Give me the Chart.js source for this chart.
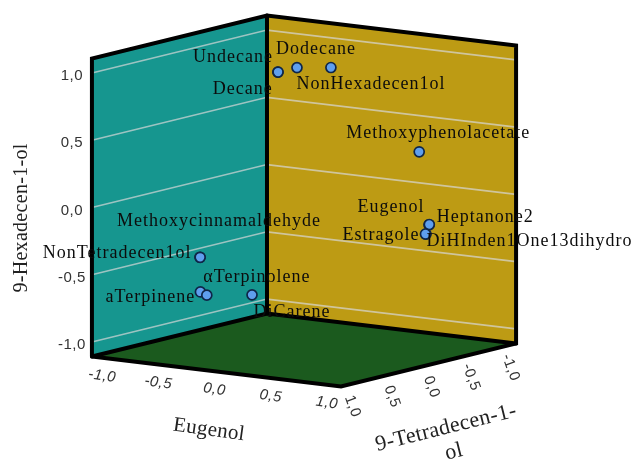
<!DOCTYPE html>
<html>
<head>
<meta charset="utf-8">
<title>Loadings plot</title>
<script src="https://cdn.jsdelivr.net/npm/chart.js@4"></script>
<style>
  html, body { margin: 0; padding: 0; background: #fff; }
  #chart { display: block; filter: blur(0.55px); }
</style>
</head>
<body>
<canvas id="chart" width="633" height="461"></canvas>
<script>
// Loadings
const names = ["Decane", "Undecane", "Dodecane", "NonHexadecen1ol", "Methoxyphenolacetate", "Eugenol", "Heptanone2",
  "Estragole", "DiHInden1One13dihydro", "Methoxycinnamaldehyde", "NonTetradecen1ol", "aTerpinene", "αTerpinolene", "DiCarene"];
const eugenol = [-0.05, -0.02, 0.05, 0.12, 0.8, 1.0, 0.96, 0.98, 0.94, -0.3, -0.2, -0.5, -0.45, -0.35];
const tetradecen = [0.26, 0.3, 0.16, -0.17, -0.32, -0.16, -0.22, -0.15, -0.2, 0.89, 1.03, 0.6, 0.59, 0.16];
const hexadecen = [0.99, 1.0, 1.02, 0.98, 0.4, -0.1, -0.11, -0.17, -0.18, -0.32, -0.29, -0.64, -0.66, -0.71];

const tickValues = [-1, -0.5, 0, 0.5, 1];
const tickLabels = ["-1,0", "-0,5", "0,0", "0,5", "1,0"];

// where each name sits relative to its point, in pixels
const labelOffsets = [[-35, 17], [-45, -15], [19, -18], [40, 17], [19, -19], [-38, -18], [56, -7],
  [-45, 1], [104, 7], [19, -36], [-83, -4], [-50, 5], [50, -18], [40, 17]];

// Box edge in data units and the oblique projection of the cube
const EDGE = 1.108;
function project(e, t, h) {
  return {
    x: 304 + 112.4 * e - 79 * t,
    y: 201 + 13.5 * e + 19.4 * t - 134.5 * h
  };
}

const leftBottom = project(-EDGE, EDGE, -EDGE);
const leftTop = project(-EDGE, EDGE, EDGE);
const backBottom = project(-EDGE, -EDGE, -EDGE);
const backTop = project(-EDGE, -EDGE, EDGE);
const rightBottom = project(EDGE, -EDGE, -EDGE);
const rightTop = project(EDGE, -EDGE, EDGE);
const frontBottom = project(EDGE, EDGE, -EDGE);

function wall(points, color) {
  return {
    data: points, showLine: true, pointRadius: 0, borderWidth: 0,
    backgroundColor: color, fill: "shape", order: 30
  };
}

function edge(points, width, color, order) {
  return {
    data: points, showLine: true, pointRadius: 0, borderWidth: width,
    borderColor: color, borderCapStyle: "round", fill: false, order: order
  };
}

const datasets = [
  wall([leftBottom, leftTop, backTop, backBottom], "#16968f"),
  wall([backBottom, backTop, rightTop, rightBottom], "#bd9b14"),
  wall([leftBottom, backBottom, rightBottom, frontBottom], "#1b5a1e")
];

// grid lines on the two back walls
tickValues.forEach((h) => {
  datasets.push(edge([project(-EDGE, EDGE, h), project(-EDGE, -EDGE, h), project(EDGE, -EDGE, h)], 1.7, "rgba(215,215,215,0.7)", 20));
});

// box frame
datasets.push(edge([leftBottom, leftTop, backTop, rightTop, rightBottom, frontBottom, leftBottom], 4, "#000", 10));
datasets.push(edge([backTop, backBottom], 4, "#000", 10));
datasets.push(edge([leftBottom, backBottom, rightBottom], 4, "#000", 10));

// the points
datasets.push({
  data: names.map((n, i) => project(eugenol[i], tetradecen[i], hexadecen[i])),
  pointRadius: 5, pointBackgroundColor: "#5f9fee", pointBorderColor: "#0f2648", pointBorderWidth: 1.7,
  showLine: false, order: 1
});

function drawRotated(ctx, text, x, y, angle, font, color, spacing) {
  ctx.save();
  ctx.translate(x, y);
  ctx.rotate(angle * Math.PI / 180);
  ctx.font = font;
  ctx.fillStyle = color;
  ctx.letterSpacing = spacing || "0px";
  ctx.textAlign = "center";
  ctx.textBaseline = "middle";
  ctx.fillText(text, 0, 0);
  ctx.restore();
}

const textPlugin = {
  id: "textPlugin",
  afterDraw(chart) {
    const ctx = chart.ctx;
    const sx = chart.scales.x;
    const sy = chart.scales.y;
    const serif = '"Liberation Serif", serif';
    const sans = '"Liberation Sans", sans-serif';

    // point names
    names.forEach((name, i) => {
      const p = project(eugenol[i], tetradecen[i], hexadecen[i]);
      drawRotated(ctx, name, sx.getPixelForValue(p.x) + labelOffsets[i][0], sy.getPixelForValue(p.y) + labelOffsets[i][1],
        0, "18px " + serif, "#0c0c0c", "1px");
    });

    tickValues.forEach((v, i) => {
      // vertical axis
      const h = project(-EDGE, EDGE, v);
      drawRotated(ctx, tickLabels[i], sx.getPixelForValue(h.x) - 20, sy.getPixelForValue(h.y) + 3, 0, "15px " + sans, "#333", "0.5px");
      // Eugenol axis
      const e = project(v, EDGE, -EDGE);
      drawRotated(ctx, tickLabels[i], sx.getPixelForValue(e.x) - 2, sy.getPixelForValue(e.y) + 18, 8, "italic 15px " + sans, "#333", "0.5px");
      // Tetradecen axis
      const t = project(EDGE, v, -EDGE);
      drawRotated(ctx, tickLabels[i], sx.getPixelForValue(t.x) + 3, sy.getPixelForValue(t.y) + 22, 70, "15px " + sans, "#333", "0.5px");
    });

    // axis titles
    drawRotated(ctx, "9-Hexadecen-1-ol", 22, 218, -90, "20px " + serif, "#222", "0.3px");
    drawRotated(ctx, "Eugenol", 209, 430, 8, "21px " + serif, "#222", "0.3px");
    drawRotated(ctx, "9-Tetradecen-1-", 446, 428, -14, "22px " + serif, "#222", "0.3px");
    drawRotated(ctx, "ol", 454, 452, -14, "22px " + serif, "#222", "0.3px");
  }
};

new Chart(document.getElementById("chart"), {
  type: "scatter",
  data: { datasets: datasets },
  plugins: [textPlugin],
  options: {
    responsive: false,
    animation: false,
    layout: { padding: 0, autoPadding: false },
    plugins: { legend: { display: false }, tooltip: { enabled: false } },
    scales: {
      x: { type: "linear", display: false, min: 0, max: 633 },
      y: { type: "linear", display: false, min: 0, max: 461, reverse: true }
    }
  }
});
</script>
</body>
</html>
